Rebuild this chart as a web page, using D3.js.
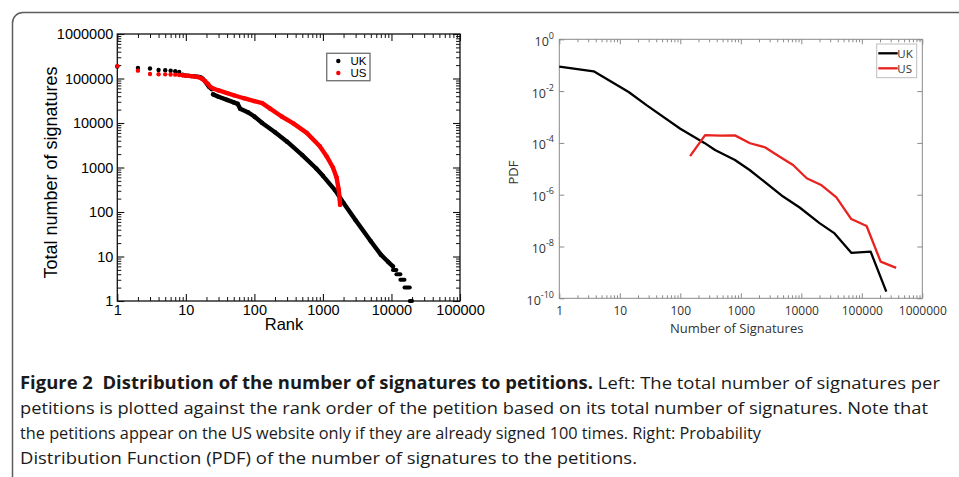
<!DOCTYPE html>
<html><head><meta charset="utf-8">
<script src="https://cdn.jsdelivr.net/npm/d3@7/dist/d3.min.js"></script>
<style>body{margin:0;background:#fff}svg{display:block}</style>
</head><body>
<svg id="c" width="959" height="477"></svg>
<script>
// ---------------- DATA ----------------
// Left panel: rank vs total number of signatures
const ukTopRank = [1,2,3,4,5,6,7,8,9,10,11,12,13,14,15,16,17,18,19,20,21,22,23,24];
const ukTopSig  = [186000,172000,168000,155000,153000,149000,145000,140000,122000,117000,115000,113000,112000,111000,110000,108000,104000,96000,86000,77000,70000,64000,60000,57000];
const ukCurveRank = [25,30,40,50,57,62,80,100,130,200,300,500,800,1000,1500,2000,3000,5000,7000,9000,10500];
const ukCurveSig  = [44000,39000,33000,29000,27000,21000,17500,14000,10000,6200,3800,1900,950,650,310,160,65,22,11,7.5,6];
const ukStepSig  = [5,4,3,2,1];
const ukStepFrom = [10500,11800,13500,15500,18500];
const ukStepTo   = [11800,13500,15500,18500,20000];

const usTopRank = [1,2,3,4,5,6,7,8];
const usTopSig  = [190000,150000,126000,125000,124000,123000,122000,120000];
const usCurveRank = [9,10,12,15,17,19,21,23,26,30,40,50,70,100,130,170,250,370,580,900,1130,1400,1580,1700,1760,1780];
const usCurveSig  = [118000,116000,113000,108000,100000,88000,75000,64000,58000,54000,47000,42000,36000,31000,28000,21000,14000,9800,6000,3000,1800,1000,600,320,190,145];

const leftXTicks = [1,10,100,1000,10000,100000];
const leftXTickLabels = ["1","10","100","1000","10000","100000"];
const leftYTicks = [1,10,100,1000,10000,100000,1000000];
const leftYTickLabels = ["1","10","100","1000","10000","100000","1000000"];

// Right panel: PDF of number of signatures
const pdfUkN = [1,3.7,8,14,28,100,250,375,800,1400,5000,9400,20000,35500,67000,140000,254000];
const pdfUkP = [0.088,0.058,0.02,0.0092,0.0028,3.5e-4,1e-4,5.3e-5,2.2e-5,9e-6,8.5e-7,3.2e-7,8e-8,3.2e-8,5.7e-9,6.3e-9,1.8e-10];
const pdfUsN = [145,257,453,800,1420,2500,4400,7300,12300,21700,38000,67000,120000,205000,370000];
const pdfUsP = [3.1e-5,2e-4,1.9e-4,1.95e-4,9.7e-5,6.8e-5,2.9e-5,1.4e-5,4.3e-6,2.3e-6,7.9e-7,1.15e-7,6.2e-8,2.6e-9,1.5e-9];

const rightXTicks = [1,10,100,1000,10000,100000,1000000];
const rightXTickLabels = ["1","10","100","1000","10000","100000","1000000"];
const rightYTicks = [1,1e-2,1e-4,1e-6,1e-8,1e-10];
const rightYExp = ["0","-2","-4","-6","-8","-10"];

const seriesNames = ["UK","US"];
const captionBold = "Figure 2  Distribution of the number of signatures to petitions.";
const captionLines = [
  " Left: The total number of signatures per",
  "petitions is plotted against the rank order of the petition based on its total number of signatures. Note that",
  "the petitions appear on the US website only if they are already signed 100 times. Right: Probability",
  "Distribution Function (PDF) of the number of signatures to the petitions."
];

// ---------------- DRAW ----------------
const svg = d3.select('#c');
svg.append('rect').attr('width',959).attr('height',477).attr('fill','#fff');
svg.append('path').attr('d','M12.5,477 V23 A10.5,10.5 0 0 1 23,12.5 H959')
  .attr('fill','none').attr('stroke','#5c5c5c').attr('stroke-width',1.5);

const RED = '#ff0000';
const zipP = (a,b)=>a.map((v,i)=>[v,b[i]]);

// ---- Left panel ----
const xL = d3.scaleLog().domain([1,1e5]).range([117.3,460]);
const yL = d3.scaleLog().domain([1,1e6]).range([301,34]);
const gL = svg.append('g');
const lf = 'Liberation Sans, Arial, Helvetica, sans-serif';

function minorsOf(scale, majors){
  return scale.ticks().filter(t => !majors.some(m => Math.abs(m-t)/m < 1e-9));
}
function styleAxis(g, color, w){
  g.select('.domain').remove();
  g.selectAll('line').attr('stroke',color).attr('stroke-width',w);
}
const lxMin = minorsOf(xL, leftXTicks), lyMin = minorsOf(yL, leftYTicks);
// bottom
gL.append('g').attr('transform','translate(0,301)')
  .call(d3.axisBottom(xL).tickValues(leftXTicks).tickFormat((d,i)=>leftXTickLabels[i]).tickSizeInner(-7).tickSizeOuter(0).tickPadding(4))
  .call(g=>styleAxis(g,'#111',1.1))
  .call(g=>g.selectAll('text').attr('font-family',lf).attr('font-size',14.5).attr('fill','#000'));
gL.append('g').attr('transform','translate(0,301)')
  .call(d3.axisBottom(xL).tickValues(lxMin).tickFormat('').tickSizeInner(-4).tickSizeOuter(0))
  .call(g=>styleAxis(g,'#111',1));
// top
gL.append('g').attr('transform','translate(0,34)')
  .call(d3.axisTop(xL).tickValues(leftXTicks).tickFormat('').tickSizeInner(-7).tickSizeOuter(0))
  .call(g=>styleAxis(g,'#111',1.1));
gL.append('g').attr('transform','translate(0,34)')
  .call(d3.axisTop(xL).tickValues(lxMin).tickFormat('').tickSizeInner(-4).tickSizeOuter(0))
  .call(g=>styleAxis(g,'#111',1));
// left
gL.append('g').attr('transform','translate(117.3,0)')
  .call(d3.axisLeft(yL).tickValues(leftYTicks).tickFormat((d,i)=>leftYTickLabels[i]).tickSizeInner(-7).tickSizeOuter(0).tickPadding(4))
  .call(g=>styleAxis(g,'#111',1.1))
  .call(g=>g.selectAll('text').attr('font-family',lf).attr('font-size',14.5).attr('fill','#000'));
gL.append('g').attr('transform','translate(117.3,0)')
  .call(d3.axisLeft(yL).tickValues(lyMin).tickFormat('').tickSizeInner(-4).tickSizeOuter(0))
  .call(g=>styleAxis(g,'#111',1));
// right
gL.append('g').attr('transform','translate(460,0)')
  .call(d3.axisRight(yL).tickValues(leftYTicks).tickFormat('').tickSizeInner(-7).tickSizeOuter(0))
  .call(g=>styleAxis(g,'#111',1.1));
gL.append('g').attr('transform','translate(460,0)')
  .call(d3.axisRight(yL).tickValues(lyMin).tickFormat('').tickSizeInner(-4).tickSizeOuter(0))
  .call(g=>styleAxis(g,'#111',1));
gL.append('rect').attr('x',117.3).attr('y',34).attr('width',460-117.3).attr('height',301-34)
  .attr('fill','none').attr('stroke','#111').attr('stroke-width',1.3);

const lineL = d3.line().x(d=>xL(d[0])).y(d=>yL(d[1]));
const R = 2.2;
// UK
gL.append('path').datum(zipP(ukCurveRank,ukCurveSig)).attr('d',lineL)
  .attr('fill','none').attr('stroke','#000').attr('stroke-width',2*R).attr('stroke-linecap','round').attr('stroke-linejoin','round');
gL.selectAll('.ukdot').data(zipP(ukTopRank,ukTopSig).concat(zipP(ukCurveRank,ukCurveSig))).join('circle')
  .attr('cx',d=>xL(d[0])).attr('cy',d=>yL(d[1])).attr('r',R).attr('fill','#000');
gL.selectAll('.ukstep').data(ukStepSig.map((s,i)=>({s,a:ukStepFrom[i],b:ukStepTo[i]}))).join('line')
  .attr('x1',d=>xL(d.a)).attr('x2',d=>xL(d.b)).attr('y1',d=>yL(d.s)).attr('y2',d=>yL(d.s))
  .attr('stroke','#000').attr('stroke-width',4).attr('stroke-linecap','round');
// US
gL.append('path').datum(zipP(usCurveRank,usCurveSig)).attr('d',lineL)
  .attr('fill','none').attr('stroke',RED).attr('stroke-width',2*R).attr('stroke-linecap','round').attr('stroke-linejoin','round');
gL.selectAll('.usdot').data(zipP(usTopRank,usTopSig).concat(zipP(usCurveRank,usCurveSig))).join('circle')
  .attr('cx',d=>xL(d[0])).attr('cy',d=>yL(d[1])).attr('r',R).attr('fill',RED);

// legend
gL.append('rect').attr('x',326.7).attr('y',53.3).attr('width',43.3).attr('height',27.4)
  .attr('fill','#fff').attr('stroke','#777').attr('stroke-width',1.4);
[['#000',61],[RED,73]].forEach((c,i)=>{
  gL.append('circle').attr('cx',338.3).attr('cy',c[1]).attr('r',R).attr('fill',c[0]);
  gL.append('text').attr('x',350.5).attr('y',c[1]+4.2).text(seriesNames[i])
    .attr('font-family',lf).attr('font-size',11.5).attr('fill','#000');
});
gL.append('text').attr('transform','translate(56.5,172.5) rotate(-90)').attr('text-anchor','middle')
  .attr('font-family',lf).attr('font-size',18).text('Total number of signatures');
gL.append('text').attr('x',284).attr('y',330).attr('text-anchor','middle')
  .attr('font-family',lf).attr('font-size',16.5).text('Rank');

// ---- Right panel ----
const xR = d3.scaleLog().domain([1,1e6]).range([559.3,922.3]);
const yR = d3.scaleLog().domain([1e-10,1]).range([298.3,39.3]);
const gR = svg.append('g');
const rf = 'Open Sans, Noto Sans, sans-serif';
const AX = '#8a8a8a';
const rxMin = minorsOf(xR, rightXTicks);
gR.append('g').attr('transform','translate(0,298.3)')
  .call(d3.axisBottom(xR).tickValues(rightXTicks).tickFormat((d,i)=>rightXTickLabels[i]).tickSizeInner(-5).tickSizeOuter(0).tickPadding(8))
  .call(g=>styleAxis(g,AX,1))
  .call(g=>g.selectAll('text').attr('font-family',rf).attr('font-size',12).attr('fill','#333'));
gR.append('g').attr('transform','translate(0,298.3)')
  .call(d3.axisBottom(xR).tickValues(rxMin).tickFormat('').tickSizeInner(-3).tickSizeOuter(0))
  .call(g=>styleAxis(g,AX,1));
gR.append('g').attr('transform','translate(0,39.3)')
  .call(d3.axisTop(xR).tickValues(rightXTicks).tickFormat('').tickSizeInner(-5).tickSizeOuter(0))
  .call(g=>styleAxis(g,AX,1));
gR.append('g').attr('transform','translate(0,39.3)')
  .call(d3.axisTop(xR).tickValues(rxMin).tickFormat('').tickSizeInner(-3).tickSizeOuter(0))
  .call(g=>styleAxis(g,AX,1));
gR.append('g').attr('transform','translate(559.3,0)')
  .call(d3.axisLeft(yR).tickValues(rightYTicks).tickFormat('').tickSizeInner(-5).tickSizeOuter(0))
  .call(g=>styleAxis(g,AX,1));
gR.append('g').attr('transform','translate(922.3,0)')
  .call(d3.axisRight(yR).tickValues(rightYTicks).tickFormat('').tickSizeInner(-5).tickSizeOuter(0))
  .call(g=>styleAxis(g,AX,1));
gR.append('rect').attr('x',559.3).attr('y',39.3).attr('width',922.3-559.3).attr('height',298.3-39.3)
  .attr('fill','none').attr('stroke',AX).attr('stroke-width',1);
// y labels with superscripts
rightYTicks.forEach((t,i)=>{
  const tx = gR.append('text').attr('x',554).attr('y',yR(t)+6.5).attr('text-anchor','end')
    .attr('font-family',rf).attr('fill','#333');
  tx.append('tspan').attr('font-size',12.5).text('10');
  tx.append('tspan').attr('font-size',9).attr('dy',-7).text(rightYExp[i]);
});
const lineR = d3.line().x(d=>xR(d[0])).y(d=>yR(d[1]));
gR.append('path').datum(zipP(pdfUkN,pdfUkP)).attr('d',lineR)
  .attr('fill','none').attr('stroke','#000').attr('stroke-width',2.3).attr('stroke-linejoin','round');
gR.append('path').datum(zipP(pdfUsN,pdfUsP)).attr('d',lineR)
  .attr('fill','none').attr('stroke','#e8221e').attr('stroke-width',2.3).attr('stroke-linejoin','round');
// legend
gR.append('rect').attr('x',876.7).attr('y',44).attr('width',40).attr('height',33.7)
  .attr('fill','#fff').attr('stroke','#bdbdbd').attr('stroke-width',1);
[['#000',53.3],['#e8221e',68.3]].forEach((c,i)=>{
  gR.append('line').attr('x1',878.3).attr('x2',897.7).attr('y1',c[1]).attr('y2',c[1])
    .attr('stroke',c[0]).attr('stroke-width',2.3);
  gR.append('text').attr('x',897.3).attr('y',c[1]+4.4).text(seriesNames[i])
    .attr('font-family',rf).attr('font-size',11.5).attr('fill','#333');
});
gR.append('text').attr('transform','translate(518,172.5) rotate(-90)').attr('text-anchor','middle')
  .attr('font-family',rf).attr('font-size',13).attr('fill','#333').text('PDF');
gR.append('text').attr('x',736.7).attr('y',333).attr('text-anchor','middle')
  .attr('font-family',rf).attr('font-size',13).attr('fill','#333').text('Number of Signatures');

// ---- Caption ----
const cf = 'Open Sans, Noto Sans, sans-serif';
const capW = [920, 908, 741, 617];
const capY = [389, 414, 439, 464];
captionLines.forEach((ln,i)=>{
  const t = svg.append('text').attr('x',20).attr('y',capY[i]).attr('font-family',cf)
    .attr('font-size',17).attr('fill','#1a1a1a').style('white-space','pre')
    .attr('textLength',capW[i]).attr('lengthAdjust','spacingAndGlyphs');
  if(i===0){ t.append('tspan').attr('font-weight','bold').text(captionBold); }
  t.append('tspan').text(ln);
});
</script>
</body></html>
